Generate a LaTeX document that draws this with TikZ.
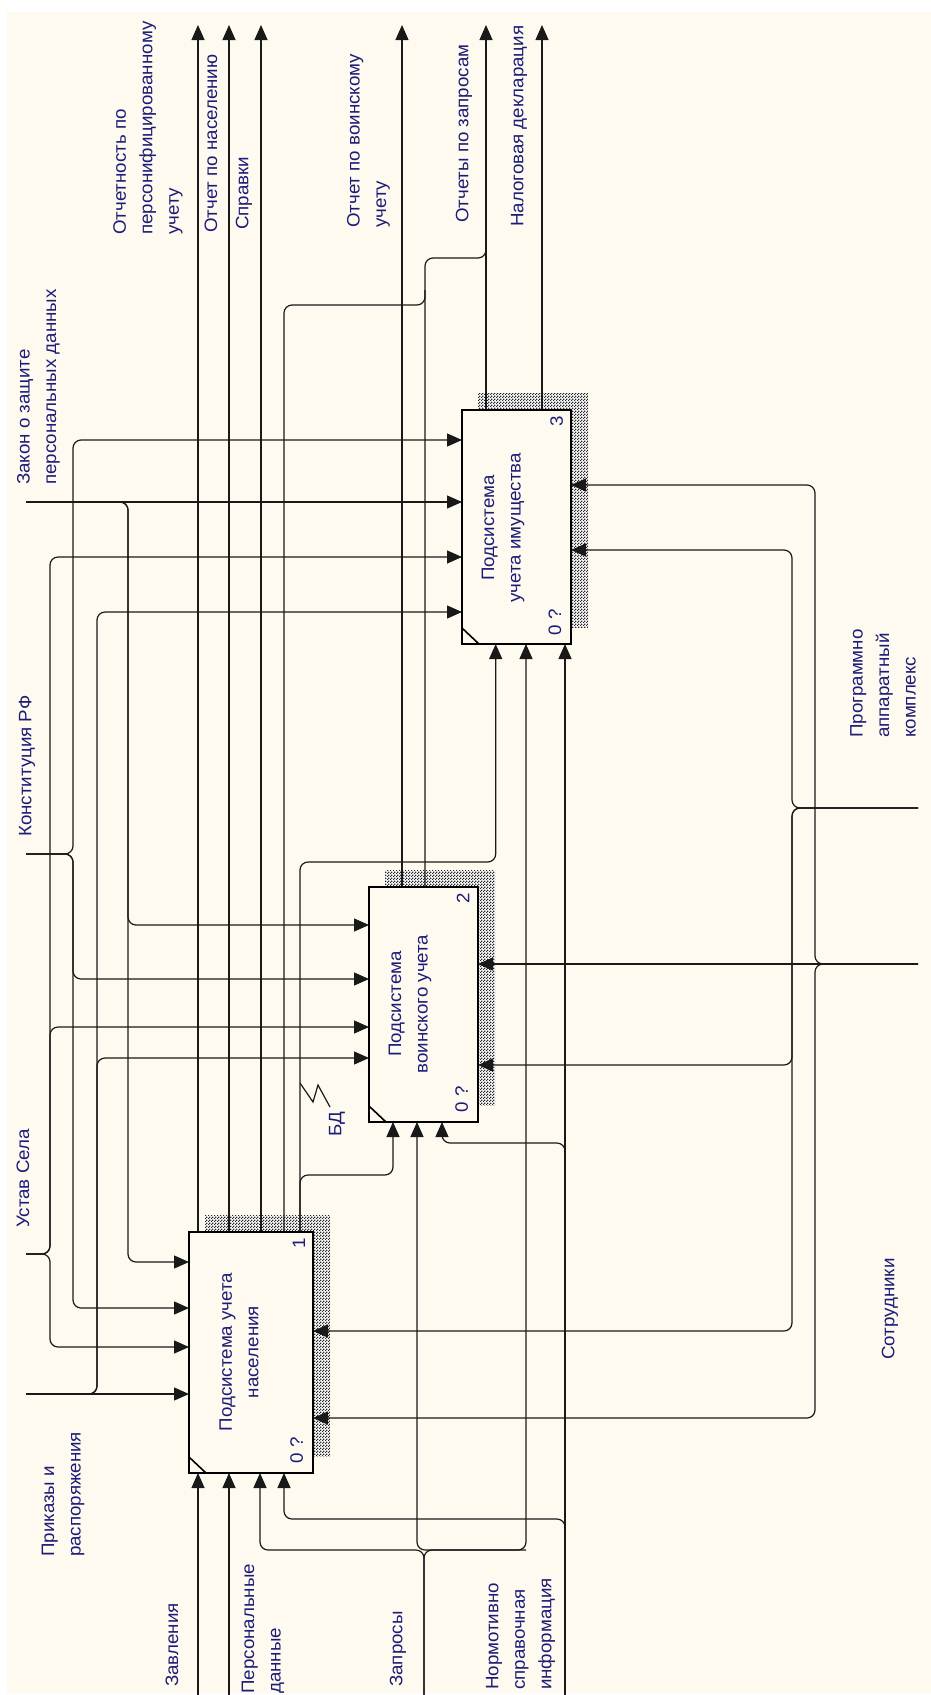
\documentclass[tikz,border=0pt]{standalone}
\usepackage{fontspec}
\setmainfont{Liberation Sans}
\newfontfamily\lblfont[FakeStretch=1.04]{Liberation Sans}
\usetikzlibrary{arrows.meta,patterns}
\definecolor{cream}{RGB}{255,250,240}
\definecolor{ink}{RGB}{28,28,120}
\definecolor{wirec}{RGB}{25,25,25}
\pgfdeclarepatternformonly{idefhatch}{\pgfqpoint{0pt}{0pt}}{\pgfqpoint{2.6pt}{2.6pt}}{\pgfqpoint{2.6pt}{2.6pt}}{%
  \pgfpathrectangle{\pgfqpoint{0pt}{0pt}}{\pgfqpoint{1.3pt}{1.3pt}}%
  \pgfpathrectangle{\pgfqpoint{1.3pt}{1.3pt}}{\pgfqpoint{1.3pt}{1.3pt}}%
  \pgfusepath{fill}}
\tikzset{
  wire/.style={draw=wirec, line width=1.2pt, rounded corners=8pt},
  arr/.style={wire, -{Triangle[length=15pt,width=13pt]}},
  idefbox/.style={draw=black, line width=2.6pt, fill=cream, inner sep=0pt, outer sep=0pt},
  shadowbox/.style={fill=white, postaction={pattern=idefhatch, pattern color=black!85}},
  lbl/.style={rotate=90, text=ink, font=\lblfont\fontsize{18}{26.5}\selectfont, inner sep=0pt, align=left, anchor=west},
  boxtxt/.style={rotate=90, text=ink, font=\lblfont\fontsize{18}{26.5}\selectfont, inner sep=0pt, align=center},
  numtxt/.style={rotate=90, text=ink, font=\lblfont\fontsize{18}{20}\selectfont, inner sep=0pt},
}
\begin{document}
\begin{tikzpicture}[x=1pt,y=-1pt]
\useasboundingbox (0,0) rectangle (931,1695);
\fill[white] (0,0) rectangle (931,1695);
\fill[cream] (7,12) rectangle (931,1693);

% shadows
\path[shadowbox] (205,1215) rectangle (330,1456);
\path[shadowbox] (385,870) rectangle (495,1105);
\path[shadowbox] (478,393) rectangle (588,627);

% boxes (nodes, drawn later on top)
\path (251,1352.5) node[idefbox, draw=none, fill=none, minimum width=124pt, minimum height=241pt] (b1) {};
\path (423.5,1004.5) node[idefbox, draw=none, fill=none, minimum width=109pt, minimum height=235pt] (b2) {};
\path (516.5,527) node[idefbox, draw=none, fill=none, minimum width=109pt, minimum height=234pt] (b3) {};

% free ends
\coordinate (cZakon) at (26,502);
\coordinate (cKonst) at (26,854);
\coordinate (cUstav) at (26,1254);
\coordinate (cPrik) at (26,1394);
\coordinate (oOtch) at (198,25);
\coordinate (oNas) at (229,25);
\coordinate (oSpr) at (261,25);
\coordinate (oVoin) at (402,25);
\coordinate (oZapr) at (486,25);
\coordinate (oNal) at (542,25);
\coordinate (iZav) at (198,1695);
\coordinate (iPers) at (229,1695);
\coordinate (iZapr) at (424,1695);
\coordinate (iNorm) at (565,1695);
\coordinate (mProg) at (918,808);
\coordinate (mSotr) at (918,964);

% outputs
\draw[arr] (198,0 |- b1.north) -- (oOtch);
\draw[arr] (229,0 |- b1.north) -- (oNas);
\draw[arr] (261,0 |- b1.north) -- (oSpr);
\draw[wire] (284,0 |- b1.north) -- (284,305) -- (425,305) -- (425,290);
\draw[arr] (402,0 |- b2.north) -- (oVoin);
\draw[wire] (425,0 |- b2.north) -- (425,258) -- (486,258) -- (486,240);
\draw[arr] (486,0 |- b3.north) -- (oZapr);
\draw[arr] (542,0 |- b3.north) -- (oNal);
% BD
\draw[arr] (300,0 |- b1.north) -- (300,862) -- (495.7,862) -- (495.7,0 |- b3.south);
\draw[arr] (300,0 |- b1.north) -- (300,1175) -- (393,1175) -- (393,0 |- b2.south);
\draw[draw=wirec, line width=1.2pt] (300,1083) -- (313,1102) -- (318,1085) -- (330,1107);

% controls
\draw[arr] (cZakon) -- (b3.west |- cZakon);
\draw[arr] (cZakon) -- (128,502) -- (128,925) -- (b2.west |- 0,925);
\draw[arr] (cZakon) -- (128,502) -- (128,1262) -- (b1.west |- 0,1262);
\draw[arr] (cKonst) -- (73,854) -- (73,440) -- (b3.west |- 0,440);
\draw[arr] (cKonst) -- (73,854) -- (73,979) -- (b2.west |- 0,979);
\draw[arr] (cKonst) -- (73,854) -- (73,1308) -- (b1.west |- 0,1308);
\draw[arr] (cUstav) -- (50,1254) -- (50,557) -- (b3.west |- 0,557);
\draw[arr] (cUstav) -- (50,1254) -- (50,1027) -- (b2.west |- 0,1027);
\draw[arr] (cUstav) -- (50,1254) -- (50,1347) -- (b1.west |- 0,1347);
\draw[arr] (cPrik) -- (b1.west |- cPrik);
\draw[arr] (cPrik) -- (97,1394) -- (97,612) -- (b3.west |- 0,612);
\draw[arr] (cPrik) -- (97,1394) -- (97,1058) -- (b2.west |- 0,1058);

% inputs
\draw[arr] (iZav) -- (198,0 |- b1.south);
\draw[arr] (iPers) -- (229,0 |- b1.south);
\draw[arr] (iZapr) -- (424,1550) -- (260,1550) -- (260,0 |- b1.south);
\draw[arr] (iZapr) -- (424,1550) -- (526,1550) -- (526,0 |- b3.south);
\draw[arr] (526,1550) -- (417,1550) -- (417,0 |- b2.south);
\draw[arr] (iNorm) -- (565,0 |- b3.south);
\draw[arr] (iNorm) -- (565,1519) -- (284,1519) -- (284,0 |- b1.south);
\draw[arr] (iNorm) -- (565,1143) -- (442,1143) -- (442,0 |- b2.south);

% mechanisms
\draw[arr] (mProg) -- (792,808) -- (792,550) -- (b3.east |- 0,550);
\draw[arr] (mProg) -- (792,808) -- (792,1065) -- (b2.east |- 0,1065);
\draw[arr] (mProg) -- (792,808) -- (792,1331) -- (b1.east |- 0,1331);
\draw[arr] (mSotr) -- (b2.east |- mSotr);
\draw[arr] (mSotr) -- (815,964) -- (815,485) -- (b3.east |- 0,485);
\draw[arr] (mSotr) -- (815,964) -- (815,1418) -- (b1.east |- 0,1418);

% boxes on top
\foreach \b in {b1,b2,b3}{
  \draw[idefbox] (\b.north west) rectangle (\b.south east);
  \draw[line width=1.6pt] ([yshift=16pt]\b.south west) -- ([xshift=17pt]\b.south west);
}

% box texts
\node[boxtxt] (t1) at (239,1352) {Подсистема учета\\населения};
\node[boxtxt] (t2) at (410,1004) {Подсистема\\воинского учета};
\node[boxtxt] (t3) at (503,528) {Подсистема\\учета имущества};
\node[numtxt] (n1) at (299,1243) {1};
\node[numtxt] (n2) at (463,898) {2};
\node[numtxt] (n3) at (556.7,421.7) {3};
\node[numtxt] (z1) at (296.6,1450) {0 ?};
\node[numtxt] (z2) at (461.7,1099) {0 ?};
\node[numtxt] (z3) at (555,622) {0 ?};

% labels
\node[lbl] (l1) at (148,235) {Отчетность по\\персонифицированному\\учету};
\node[lbl] (l2) at (211,233) {Отчет по населению};
\node[lbl] (l3) at (244,230) {Справки};
\node[lbl] (l4) at (368.5,228) {Отчет по воинскому\\учету};
\node[lbl] (l5) at (464,223) {Отчеты по запросам};
\node[lbl] (l6) at (519,227) {Налоговая декларация};
\node[lbl] (l7) at (38.5,485) {Закон о защите\\персональных данных};
\node[lbl] (l8) at (27,837) {Конституция РФ};
\node[lbl] (l9) at (23,1228) {Устав Села};
\node[lbl] (l10) at (63,1557) {Приказы и\\распоряжения};
\node[lbl] (l11) at (172,1687) {Завления};
\node[lbl] (l12) at (263,1694) {Персональные\\данные};
\node[lbl] (l13) at (398,1687) {Запросы};
\node[lbl] (l14) at (520.5,1690) {Нормотивно\\справочная\\информация};
\node[lbl] (l15) at (883,738) {Программно\\аппаратный\\комплекс};
\node[lbl] (l16) at (890,1360) {Сотрудники};
\node[lbl] (l17) at (337,1137) {БД};
\end{tikzpicture}
\end{document}
